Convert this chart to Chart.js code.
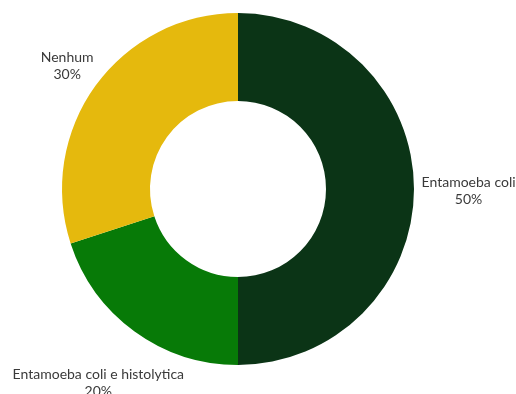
<!DOCTYPE html>
<html>
<head>
<meta charset="utf-8">
<script src="https://cdn.jsdelivr.net/npm/chart.js@4"></script>
<style>
  html, body { margin: 0; padding: 0; background: #fff; }
  #wrap { width: 516px; height: 394px; }
</style>
</head>
<body>
<div id="wrap"><canvas id="myChart" width="516" height="394"></canvas></div>
<script>
var categorias = ['Entamoeba coli', 'Entamoeba coli e histolytica', 'Nenhum'];
var valores = [50, 20, 30];
var etiquetas = ['50%', '20%', '30%'];
var colores = ['#0b3416', '#077a07', '#e5b90d'];

// distancia de cada etiqueta respecto al radio exterior
var distEtiqueta = [1.31, 1.35, 1.2];

var etiquetasFuera = {
    id: 'etiquetasFuera',
    afterDraw: function(chart){
        var ctx = chart.ctx;
        var meta = chart.getDatasetMeta(0);
        ctx.save();
        ctx.font = '14px Lato';
        ctx.fillStyle = '#3a3a3a';
        ctx.textAlign = 'center';
        ctx.textBaseline = 'middle';
        meta.data.forEach(function(arc, i){
            var ang = (arc.startAngle + arc.endAngle) / 2;
            var r = arc.outerRadius * distEtiqueta[i];
            var x = arc.x + Math.cos(ang) * r;
            var y = arc.y + Math.sin(ang) * r;
            ctx.fillText(categorias[i], x, y - 7);
            ctx.fillText(etiquetas[i], x, y + 10);
        });
        ctx.restore();
    }
};

var ctx = document.getElementById('myChart').getContext('2d');
var myChart = new Chart(ctx, {
    type: 'doughnut',
    data: {
        labels: categorias,
        datasets: [{
            data: valores,
            backgroundColor: colores,
            borderWidth: 0
        }]
    },
    options: {
        responsive: false,
        animation: false,
        cutout: '50%',
        layout: {
            padding: { top: 13, bottom: 29, left: 62, right: 102 }
        },
        plugins: {
            legend: { display: false },
            tooltip: { enabled: false }
        }
    },
    plugins: [etiquetasFuera]
});
</script>
</body>
</html>
